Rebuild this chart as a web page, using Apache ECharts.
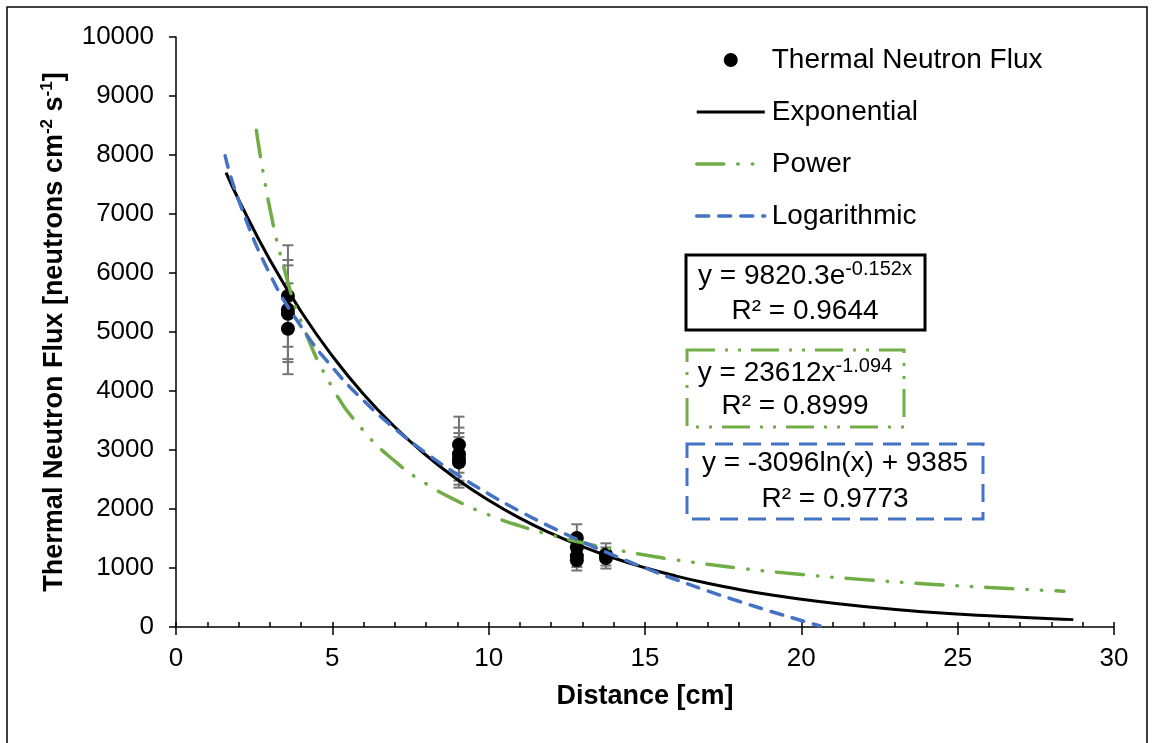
<!DOCTYPE html>
<html>
<head>
<meta charset="utf-8" />
<title>Thermal Neutron Flux</title>
<script src="https://cdn.jsdelivr.net/npm/echarts@6/dist/echarts.min.js"></script>
<style>
  html, body { margin: 0; padding: 0; background: #fff; }
  #main { width: 1154px; height: 743px; }
</style>
</head>
<body>
<div id="main"></div>
<script type="text/javascript">
// measured points (distance, flux, error)
var pointX = [3.58, 3.58, 3.58, 3.58, 9.05, 9.05, 9.05, 9.05, 12.82, 12.82, 12.82, 12.82, 13.75, 13.75];
var pointY = [5610, 5380, 5310, 5055, 3090, 2930, 2850, 2790, 1510, 1350, 1200, 1130, 1230, 1170];
var pointErr = [860, 840, 820, 770, 475, 450, 437, 428, 231, 207, 184, 173, 188, 179];

// trendlines
var expX = [1.6, 2, 3, 4, 5, 6, 7, 8, 9, 10, 11, 12, 13, 14, 15, 16, 17, 18, 19, 20, 22, 24, 26, 28, 28.7];
var expY = [7701, 7246, 6224, 5347, 4593, 3945, 3389, 2911, 2500, 2148, 1845, 1585, 1361, 1169, 1004, 863, 741, 637, 547, 470, 347, 256, 189, 139, 125];

var powX = [2.57, 3, 3.5, 4, 5, 6, 7, 8, 9, 10, 11, 12, 13, 14, 15, 16, 18, 20, 22, 24, 26, 28.4];
var powY = [8420, 7098, 5997, 5181, 4059, 3325, 2810, 2428, 2134, 1901, 1713, 1558, 1427, 1316, 1220, 1137, 999, 891, 803, 730, 669, 607];

var logX = [1.57, 2, 3, 4, 5, 6, 7, 8, 9, 10, 11, 12, 13, 14, 15, 16, 17, 18, 19, 20, 20.6];
var logY = [7988, 7239, 5984, 5093, 4402, 3838, 3361, 2947, 2582, 2256, 1961, 1692, 1444, 1214, 1001, 801, 613, 436, 269, 110, 19];

var xTicks = [0, 5, 10, 15, 20, 25, 30];
var yTicks = [0, 1000, 2000, 3000, 4000, 5000, 6000, 7000, 8000, 9000, 10000];

var FONT = "'Liberation Sans', Arial, sans-serif";
var GREEN = '#70AD47', BLUE = '#4472C4', BAR = '#747474';

function pairs(xs, ys) {
  return xs.map(function (x, i) { return [x, ys[i]]; });
}

var errData = pointX.map(function (x, i) { return [x, pointY[i], pointErr[i]]; });

var myChart = echarts.init(document.getElementById('main'));

var hideSym = { opacity: 0 };

var option = {
  backgroundColor: '#fff',
  animation: false,
  grid: { left: 176, right: 40, top: 37, bottom: 116 },
  legend: {
    orient: 'vertical',
    left: 690,
    top: 41,
    itemWidth: 68,
    itemHeight: 14,
    itemGap: 24,
    textStyle: { fontSize: 28, fontFamily: FONT, color: '#000', padding: [0, 0, 0, 2] },
    data: [
      { name: 'Thermal Neutron Flux', itemStyle: { color: '#000', opacity: 1 } },
      { name: 'Exponential', itemStyle: hideSym, lineStyle: { width: 3 } },
      { name: 'Power', itemStyle: hideSym, lineStyle: { width: 3.5 } },
      { name: 'Logarithmic', itemStyle: hideSym, lineStyle: { width: 3.5 } }
    ]
  },
  xAxis: [{
    type: 'value',
    min: xTicks[0], max: xTicks[xTicks.length - 1], interval: 5,
    name: 'Distance [cm]',
    nameLocation: 'middle',
    nameGap: 56,
    nameTextStyle: { fontSize: 27, fontWeight: 'bold', fontFamily: FONT, color: '#000' },
    axisLine: { lineStyle: { color: '#000', width: 1.5 } },
    axisTick: { inside: true, length: 5, lineStyle: { color: '#000', width: 1.5 } },
    minorTick: { show: true, splitNumber: 5, length: 5, lineStyle: { color: '#000', width: 1.5 } },
    axisLabel: { fontSize: 26, fontFamily: FONT, color: '#000', margin: 19 },
    splitLine: { show: false }
  }, {
    // outward half of the major ticks
    type: 'value',
    position: 'bottom',
    min: xTicks[0], max: xTicks[xTicks.length - 1], interval: 5,
    axisLine: { show: false },
    axisTick: { inside: false, length: 8, lineStyle: { color: '#000', width: 1.5 } },
    axisLabel: { show: false },
    splitLine: { show: false }
  }],
  yAxis: {
    type: 'value',
    min: yTicks[0], max: yTicks[yTicks.length - 1], interval: 1000,
    name: 'Thermal Neutron Flux [neutrons cm{sup|-2} s{sup|-1}]',
    nameLocation: 'middle',
    nameGap: 100,
    nameTextStyle: {
      fontSize: 27, fontWeight: 'bold', fontFamily: FONT, color: '#000', lineHeight: 32,
      rich: { sup: { fontSize: 17, fontWeight: 'bold', fontFamily: FONT, color: '#000', verticalAlign: 'top', lineHeight: 32 } }
    },
    axisLine: { show: true, lineStyle: { color: '#000', width: 1.5 } },
    axisTick: { show: true, length: 7, lineStyle: { color: '#000', width: 1.5 } },
    axisLabel: {
      fontSize: 26, fontFamily: FONT, color: '#000', margin: 22,
      formatter: function (v) { return String(v); }
    },
    splitLine: { show: false }
  },
  series: [{
    type: 'custom',
    name: 'errors',
    z: 2,
    silent: true,
    data: errData,
    renderItem: function (params, api) {
      var x = api.value(0), y = api.value(1), e = api.value(2);
      var hi = api.coord([x, y + e]);
      var lo = api.coord([x, y - e]);
      var w = 5.5;
      var st = { stroke: BAR, lineWidth: 2 };
      return {
        type: 'group',
        children: [
          { type: 'line', shape: { x1: hi[0], y1: hi[1], x2: lo[0], y2: lo[1] }, style: st },
          { type: 'line', shape: { x1: hi[0] - w, y1: hi[1], x2: hi[0] + w, y2: hi[1] }, style: st },
          { type: 'line', shape: { x1: lo[0] - w, y1: lo[1], x2: lo[0] + w, y2: lo[1] }, style: st }
        ]
      };
    }
  }, {
    type: 'scatter',
    name: 'Thermal Neutron Flux',
    z: 3,
    symbol: 'circle',
    symbolSize: 14,
    itemStyle: { color: '#000', opacity: 1 },
    data: pairs(pointX, pointY)
  }, {
    type: 'line',
    name: 'Exponential',
    z: 4,
    smooth: true,
    showSymbol: false,
    symbol: 'none',
    lineStyle: { color: '#000', width: 3 },
    itemStyle: { color: '#000' },
    data: pairs(expX, expY)
  }, {
    type: 'line',
    name: 'Power',
    z: 4,
    smooth: true,
    showSymbol: false,
    symbol: 'none',
    lineStyle: { color: GREEN, width: 3.5, type: [27, 14, 0.5, 14, 0.5, 14], cap: 'round' },
    itemStyle: { color: GREEN },
    data: pairs(powX, powY)
  }, {
    type: 'line',
    name: 'Logarithmic',
    z: 4,
    smooth: true,
    showSymbol: false,
    symbol: 'none',
    lineStyle: { color: BLUE, width: 3.5, type: [12, 10], cap: 'round' },
    itemStyle: { color: BLUE },
    data: pairs(logX, logY)
  }],
  graphic: [
    { type: 'rect', silent: true, z: 0, shape: { x: 7, y: 7, width: 1140, height: 780 },
      style: { fill: 'none', stroke: '#000', lineWidth: 1.5 } },
    // equation boxes
    { type: 'rect', shape: { x: 686, y: 255, width: 239, height: 75 },
      style: { fill: '#fff', stroke: '#000', lineWidth: 3 } },
    { type: 'text', x: 805, y: 276, style: {
        text: 'y = 9820.3e{sup|-0.152x}', align: 'center', verticalAlign: 'middle',
        fontSize: 28, fontFamily: FONT, fill: '#000',
        rich: { sup: { fontSize: 20, fontFamily: FONT, fill: '#000', verticalAlign: 'top', lineHeight: 34 } } } },
    { type: 'text', x: 805, y: 311, style: {
        text: 'R² = 0.9644', align: 'center', verticalAlign: 'middle',
        fontSize: 28, fontFamily: FONT, fill: '#000' } },
    { type: 'rect', shape: { x: 687, y: 350, width: 217, height: 77 },
      style: { fill: '#fff', stroke: GREEN, lineWidth: 3, lineDash: [28, 10, 3, 10, 3, 10] } },
    { type: 'text', x: 795, y: 373, style: {
        text: 'y = 23612x{sup|-1.094}', align: 'center', verticalAlign: 'middle',
        fontSize: 28, fontFamily: FONT, fill: '#000',
        rich: { sup: { fontSize: 20, fontFamily: FONT, fill: '#000', verticalAlign: 'top', lineHeight: 34 } } } },
    { type: 'text', x: 795, y: 406, style: {
        text: 'R² = 0.8999', align: 'center', verticalAlign: 'middle',
        fontSize: 28, fontFamily: FONT, fill: '#000' } },
    { type: 'rect', shape: { x: 687, y: 444, width: 296, height: 75 },
      style: { fill: '#fff', stroke: BLUE, lineWidth: 3, lineDash: [18, 10] } },
    { type: 'text', x: 835, y: 463, style: {
        text: 'y = -3096ln(x) + 9385', align: 'center', verticalAlign: 'middle',
        fontSize: 28, fontFamily: FONT, fill: '#000' } },
    { type: 'text', x: 835, y: 499, style: {
        text: 'R² = 0.9773', align: 'center', verticalAlign: 'middle',
        fontSize: 28, fontFamily: FONT, fill: '#000' } }
  ]
};

myChart.setOption(option);
</script>
</body>
</html>
